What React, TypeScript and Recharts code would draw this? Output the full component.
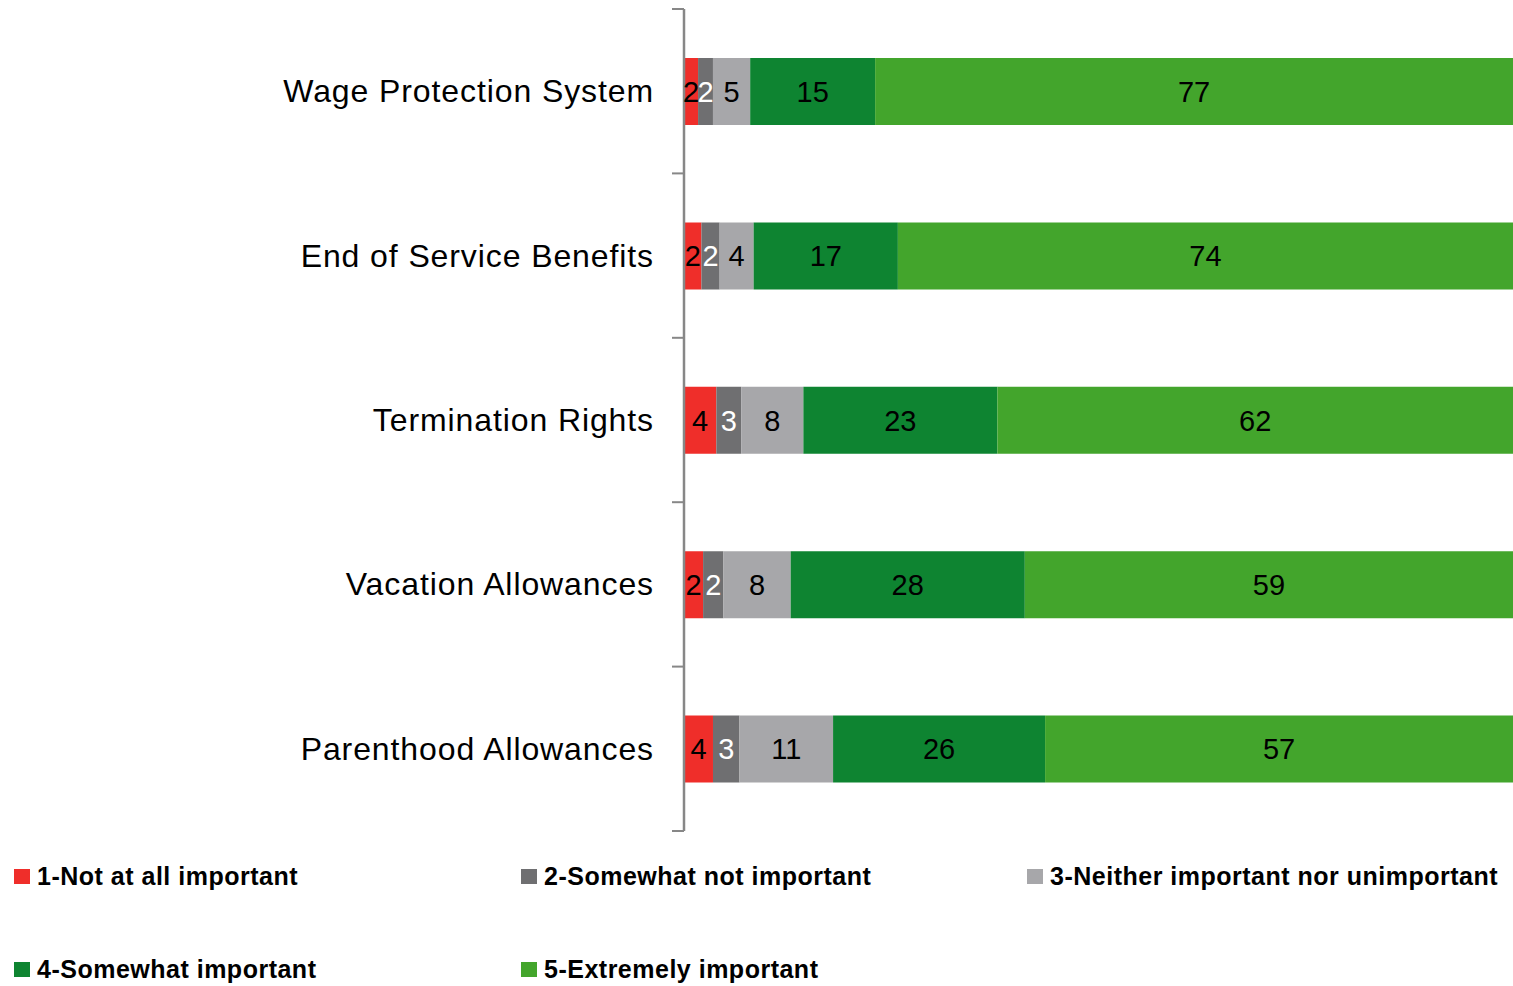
import React from 'react';
import { BarChart, Bar, XAxis, YAxis, LabelList } from 'recharts';

const categories = [
  'Wage Protection System',
  'End of Service Benefits',
  'Termination Rights',
  'Vacation Allowances',
  'Parenthood Allowances',
];

const seriesNames = [
  '1-Not at all important',
  '2-Somewhat not important',
  '3-Neither important nor unimportant',
  '4-Somewhat important',
  '5-Extremely important',
];

const notAtAll = [1.7, 2.1, 3.9, 2.3, 3.5];
const somewhatNot = [1.8, 2.2, 3.0, 2.45, 3.2];
const neither = [4.5, 4.1, 7.5, 8.1, 11.3];
const somewhat = [15.1, 17.4, 23.4, 28.2, 25.6];
const extremely = [77.1, 74.2, 62.2, 58.8, 56.5];

const seriesValues = [notAtAll, somewhatNot, neither, somewhat, extremely];
const seriesKeys = ['s1', 's2', 's3', 's4', 's5'];
const seriesColors = ['#ef2e2a', '#6f6f71', '#a7a7aa', '#0e8431', '#43a52c'];
const labelColors = ['#000000', '#ffffff', '#000000', '#000000', '#000000'];

const data = categories.map((name, i) => {
  const row: Record<string, any> = { name };
  seriesKeys.forEach((k, s) => {
    row[k] = seriesValues[s][i];
  });
  return row;
});

const FONT = '"Liberation Sans", Arial, sans-serif';
const TICK_SIZE = 20;
const TICK_MARGIN = 10;
const TICK_MARK = 12;
const AXIS_GREY = '#878787';

const CategoryTick = (props: any) => {
  const { x, y, payload, index, visibleTicksCount } = props;
  const axisX = x + TICK_SIZE + TICK_MARGIN;
  const half = payload.offset || 0;
  const count = visibleTicksCount || categories.length;
  return (
    <g>
      <text
        x={x}
        y={y}
        textAnchor="end"
        dominantBaseline="central"
        fontFamily={FONT}
        fontSize={32}
        letterSpacing={0.9}
        fill="#000"
      >
        {payload.value}
      </text>
      <line x1={axisX - TICK_MARK} x2={axisX} y1={y - half} y2={y - half} stroke={AXIS_GREY} strokeWidth={2} />
      {index === count - 1 && (
        <line x1={axisX - TICK_MARK} x2={axisX} y1={y + half} y2={y + half} stroke={AXIS_GREY} strokeWidth={2} />
      )}
    </g>
  );
};

const legendPositions = [
  { left: 14, top: 868 },
  { left: 521, top: 868 },
  { left: 1027, top: 868 },
  { left: 14, top: 961 },
  { left: 521, top: 961 },
];

export default function App() {
  return (
    <div style={{ position: 'absolute', left: 0, top: 0, width: 1513, height: 986, background: '#fff' }}>
      <BarChart
        width={1513}
        height={986}
        data={data}
        layout="vertical"
        stackOffset="expand"
        margin={{ top: 9, right: 0, left: 0, bottom: 155 }}
      >
        <XAxis type="number" hide domain={[0, 1]} />
        <YAxis
          type="category"
          dataKey="name"
          width={684}
          tickSize={TICK_SIZE}
          tickMargin={TICK_MARGIN}
          tickLine={{ stroke: 'none' }}
          axisLine={{ stroke: AXIS_GREY, strokeWidth: 2.5 }}
          tick={<CategoryTick />}
          interval={0}
        />
        {seriesKeys.map((k, s) => (
          <Bar
            key={k}
            dataKey={k}
            name={seriesNames[s]}
            stackId="a"
            fill={seriesColors[s]}
            barSize={67}
            isAnimationActive={false}
          >
            <LabelList
              dataKey={k}
              position="center"
              formatter={(v: any) => Math.round(Number(v))}
              fill={labelColors[s]}
              fontFamily={FONT}
              fontSize={29}
            />
          </Bar>
        ))}
      </BarChart>
      {seriesNames.map((n, s) => (
        <div
          key={n}
          style={{
            position: 'absolute',
            left: legendPositions[s].left,
            top: legendPositions[s].top,
            display: 'flex',
            alignItems: 'center',
            fontFamily: FONT,
            fontWeight: 'bold',
            fontSize: 25,
            letterSpacing: 0.5,
            color: '#000',
            whiteSpace: 'nowrap',
            lineHeight: '16px',
          }}
        >
          <span style={{ display: 'inline-block', width: 16, height: 15, background: seriesColors[s], marginRight: 7 }} />
          <span>{n}</span>
        </div>
      ))}
    </div>
  );
}
